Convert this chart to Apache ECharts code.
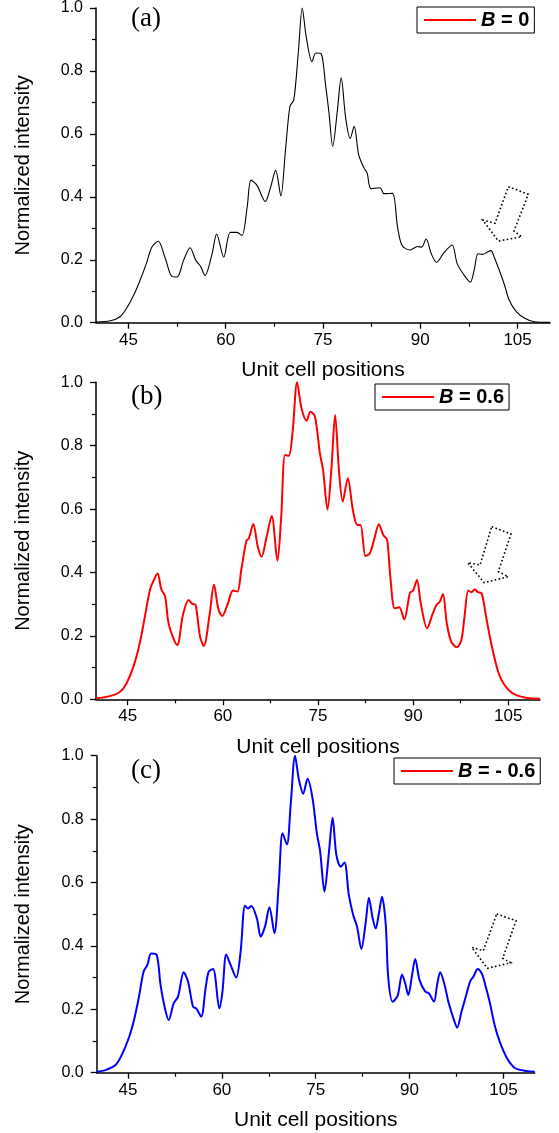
<!DOCTYPE html>
<html>
<head>
<meta charset="utf-8">
<script src="https://cdn.jsdelivr.net/npm/echarts@6/dist/echarts.min.js"></script>
<style>html,body{margin:0;padding:0;background:#fff;}#c{width:559px;height:1133px;}</style>
</head>
<body>
<div id="c"></div>
<script>
// ---- data ----
const xA = [40,42.2,43.7,44.7,45.8,46.8,47.8,48.6,49.6,50.7,51.7,52.5,53.5,54.5,55.4,56.1,56.8,57.9,58.6,59.7,60.7,61.7,62.5,63.3,63.9,64.8,66.1,66.9,67.7,68.5,69.2,69.9,70.5,71.2,71.8,72.4,73.3,73.9,74.7,75.4,75.9,76.5,77.2,77.8,78.5,79.2,79.8,80.5,81.3,81.8,82.4,83.8,84.4,85.7,86.5,87.2,88.4,89.6,90.2,90.9,91.7,92.5,93.7,94.9,95.7,96.8,97.7,98.3,98.9,99.6,100.3,100.9,101.4,102.2,103.0,103.7,104.8,106.1,107.6,110];
const yA = [0.002,0.006,0.019,0.045,0.087,0.135,0.19,0.24,0.259,0.203,0.147,0.145,0.198,0.238,0.198,0.18,0.15,0.219,0.282,0.208,0.287,0.287,0.277,0.366,0.453,0.437,0.385,0.429,0.484,0.403,0.545,0.687,0.708,0.86,1.0,0.91,0.829,0.857,0.855,0.755,0.671,0.56,0.671,0.778,0.65,0.585,0.624,0.534,0.492,0.476,0.426,0.429,0.41,0.411,0.303,0.245,0.231,0.242,0.24,0.266,0.219,0.192,0.224,0.247,0.187,0.15,0.129,0.166,0.219,0.217,0.224,0.229,0.208,0.166,0.119,0.072,0.035,0.014,0.003,0.001];

const xB = [40,42.2,43.8,44.8,45.9,46.9,47.7,48.5,49.0,49.7,50.3,50.9,51.5,52.8,53.7,54.6,55.2,55.7,56.4,57.0,57.9,58.6,59.3,59.9,60.8,61.6,62.3,62.9,63.7,64.1,64.8,65.5,66.1,66.9,67.7,68.6,69.2,69.8,70.4,71.0,71.7,72.4,73.2,73.8,74.5,75.3,75.8,76.5,77.1,77.7,78.3,78.9,79.7,80.5,81.2,81.7,82.5,83.2,83.9,84.6,85.3,85.9,86.4,87.1,87.8,88.6,89.5,90.0,90.6,91.2,92.2,93.1,93.7,94.2,94.7,95.3,96.0,96.9,97.6,98.1,98.7,99.2,99.7,100.2,100.8,101.5,102.3,103.4,104.4,105.7,107.8,110];
const yB = [0.003,0.01,0.024,0.05,0.103,0.177,0.26,0.345,0.371,0.397,0.347,0.324,0.234,0.171,0.266,0.313,0.301,0.298,0.198,0.168,0.266,0.361,0.284,0.263,0.303,0.343,0.34,0.408,0.499,0.508,0.553,0.482,0.45,0.513,0.578,0.437,0.576,0.771,0.768,0.844,1.0,0.918,0.879,0.907,0.894,0.776,0.723,0.599,0.723,0.897,0.723,0.624,0.697,0.597,0.55,0.55,0.452,0.461,0.508,0.552,0.518,0.503,0.387,0.287,0.29,0.252,0.336,0.343,0.376,0.303,0.224,0.271,0.298,0.308,0.332,0.24,0.182,0.164,0.187,0.261,0.343,0.338,0.347,0.338,0.334,0.261,0.177,0.087,0.045,0.019,0.005,0.002];

const xC = [40,41.4,43.0,44.0,45.1,45.9,46.7,47.5,48.1,48.7,49.6,50.2,50.9,51.5,52.3,53.0,53.9,54.6,55.4,55.9,56.7,57.4,57.9,58.6,59.6,60.1,60.7,61.4,62.3,63.0,63.7,64.2,64.7,65.6,66.2,66.9,67.6,68.4,69.1,69.7,70.4,71.0,71.7,72.3,73.0,73.7,74.5,75.2,75.7,76.4,77.1,77.7,78.3,79.0,79.6,80.3,81.0,81.6,82.3,83.0,83.5,84.1,84.6,85.1,85.6,86.2,86.6,87.3,88.1,88.8,89.3,89.8,90.4,90.9,91.6,92.5,93.1,93.9,94.4,94.9,95.6,96.2,97.1,97.6,98.3,98.9,99.7,100.2,100.9,101.6,102.1,102.8,103.6,104.5,105.6,106.9,108.8,110];
const yC = [0.003,0.008,0.024,0.056,0.108,0.161,0.234,0.319,0.34,0.376,0.371,0.277,0.203,0.166,0.219,0.24,0.317,0.287,0.208,0.203,0.177,0.266,0.319,0.327,0.203,0.256,0.373,0.34,0.3,0.382,0.527,0.518,0.526,0.487,0.429,0.461,0.522,0.44,0.597,0.755,0.72,0.844,1.0,0.926,0.88,0.927,0.865,0.753,0.7,0.571,0.692,0.804,0.687,0.65,0.663,0.56,0.497,0.461,0.39,0.476,0.552,0.487,0.455,0.503,0.555,0.466,0.298,0.224,0.243,0.31,0.282,0.245,0.308,0.359,0.292,0.256,0.25,0.224,0.277,0.317,0.277,0.224,0.166,0.142,0.192,0.234,0.289,0.303,0.327,0.31,0.277,0.224,0.15,0.093,0.045,0.014,0.005,0.003];

const seriesNames = ['B = 0', 'B = 0.6', 'B = - 0.6'];
const panelLabels = ['(a)', '(b)', '(c)'];
const xMajorTicks = [45, 60, 75, 90, 105];
const xMinorTicks = [52.5, 67.5, 82.5, 97.5];
const xName = 'Unit cell positions';
const yName = 'Normalized intensity';

// ---- layout / styles ----
const grids = [
  {left: 96, top: 5.7, width: 454, height: 317},
  {left: 96, top: 382.3, width: 444, height: 317},
  {left: 96.7, top: 755.7, width: 438, height: 317}
];
const lineColors = ['#000000', '#ff0000', '#0000ff'];
const lineWidths = [1.1, 2, 2];
const legendPos = [
  {left: 417, top: 7},
  {left: 375, top: 384},
  {left: 394, top: 758}
];
const labelTops = [5, 383, 757];
const arrows = [
  [[508.3,186.7],[528.3,194.3],[514,231],[521.7,236.7],[498.3,241],[482.7,220],[495,223.3]],
  [[491.7,526.7],[511,534],[498.3,571.7],[508.3,576.7],[484.3,582.7],[467.7,562.7],[480,565]],
  [[496.7,914],[516,920.7],[502.7,958.3],[510.7,962.7],[487.3,968.3],[471.7,947.3],[483.3,950.7]]
];

const SANS = 'Liberation Sans, Arial, sans-serif';
const toPairs = (xs, ys) => xs.map((x, i) => [x, ys[i]]);
const dataSets = [toPairs(xA, yA), toPairs(xB, yB), toPairs(xC, yC)];

const xAxes = [], yAxes = [], series = [], legends = [];
for (let i = 0; i < 3; i++) {
  xAxes.push({
    gridIndex: i, type: 'value', min: 40, max: 110, position: 'bottom',
    axisLine: {show: true, onZero: false, lineStyle: {color: '#000', width: 1.5}},
    axisTick: {show: true, customValues: xMajorTicks, length: 6, inside: false, lineStyle: {color: '#000', width: 1.3}},
    axisLabel: {show: true, customValues: xMajorTicks, color: '#000', fontSize: 17, fontFamily: SANS, margin: 9},
    splitLine: {show: false},
    name: xName, nameLocation: 'middle', nameGap: 37,
    nameTextStyle: {color: '#000', fontSize: 21, fontFamily: SANS}
  });
  xAxes.push({
    gridIndex: i, type: 'value', min: 40, max: 110, position: 'bottom',
    axisLine: {show: false, onZero: false},
    axisTick: {show: true, customValues: xMinorTicks, length: 4, lineStyle: {color: '#000', width: 1.2}},
    axisLabel: {show: false},
    splitLine: {show: false}
  });
  yAxes.push({
    gridIndex: i, type: 'value', min: 0, max: 1, interval: 0.2, position: 'left',
    axisLine: {show: true, lineStyle: {color: '#000', width: 1.5}},
    axisTick: {show: true, length: 6, lineStyle: {color: '#000', width: 1.3}},
    minorTick: {show: true, splitNumber: 2, length: 4, lineStyle: {color: '#000', width: 1.2}},
    axisLabel: {color: '#000', fontSize: 16, fontFamily: SANS, margin: 13, formatter: v => v.toFixed(1)},
    splitLine: {show: false},
    name: yName, nameLocation: 'middle', nameGap: 63,
    nameTextStyle: {color: '#000', fontSize: 20, fontFamily: SANS}
  });
  series.push({
    name: seriesNames[i], type: 'line', xAxisIndex: 2 * i, yAxisIndex: i,
    data: dataSets[i], symbol: 'none', smooth: 0.3, clip: false,
    lineStyle: {color: lineColors[i], width: lineWidths[i]},
    itemStyle: {color: lineColors[i]},
    emphasis: {disabled: true}
  });
  legends.push({
    left: legendPos[i].left, top: legendPos[i].top,
    orient: 'horizontal',
    padding: [3, 5, 3, 7],
    borderColor: '#000', borderWidth: 1, backgroundColor: '#fff',
    itemWidth: 52, itemHeight: 2,
    selectedMode: false,
    data: [{name: seriesNames[i], icon: 'rect', itemStyle: {color: '#ff0000', borderWidth: 0}}],
    formatter: name => '{b|B}{n|' + name.slice(1) + '}',
    textStyle: {
      color: '#000',
      rich: {
        b: {fontStyle: 'italic', fontWeight: 'bold', fontSize: 20, fontFamily: SANS, color: '#000'},
        n: {fontWeight: 'bold', fontSize: 20, fontFamily: SANS, color: '#000'}
      }
    }
  });
}

const graphics = [];
for (let i = 0; i < 3; i++) {
  graphics.push({
    type: 'text', left: 131, top: labelTops[i], silent: true,
    style: {text: panelLabels[i], fontSize: 27, fontFamily: 'Liberation Serif, Times New Roman, serif', fill: '#000'}
  });
  graphics.push({
    type: 'polygon', silent: true,
    shape: {points: arrows[i]},
    style: {fill: 'none', stroke: '#000', lineWidth: 1.6, lineDash: [1.6, 2.4]}
  });
}

const chart = echarts.init(document.getElementById('c'), null, {renderer: 'canvas'});
chart.setOption({
  animation: false,
  backgroundColor: '#fff',
  grid: grids,
  xAxis: xAxes,
  yAxis: yAxes,
  legend: legends,
  series: series,
  graphic: graphics
});
</script>
</body>
</html>
